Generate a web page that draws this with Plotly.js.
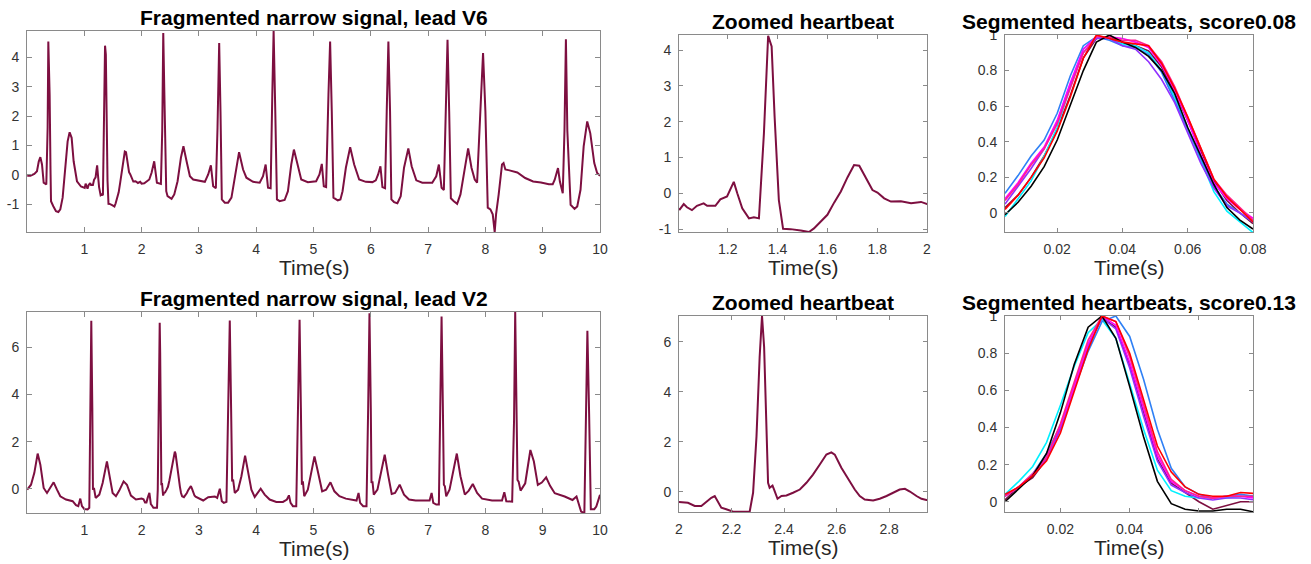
<!DOCTYPE html>
<html>
<head>
<meta charset="utf-8">
<script src="https://cdn.plot.ly/plotly-3.0.1.min.js"></script>
<style>html,body{margin:0;padding:0;background:#fff;}#chart{width:1311px;height:564px;}</style>
</head>
<body>
<div id="chart"></div>
<script>
// ---------------- DATA ----------------
// Lead V6 ECG (time in s, amplitude)
const timeV6 = [0.004,0.06,0.128,0.174,0.205,0.233,0.262,0.291,0.337,0.352,0.36,0.372,0.383,0.395,0.41,0.419,0.459,0.506,0.547,0.581,0.622,0.669,0.709,0.744,0.779,0.814,0.872,0.942,
1.007,1.023,1.036,1.056,1.076,1.103,1.117,1.15,1.17,1.197,1.213,1.224,1.238,1.258,1.285,1.305,1.325,1.345,1.362,1.376,1.388,1.405,1.422,1.452,1.493,1.526,1.546,1.573,1.6,1.627,1.654,1.681,1.707,1.728,1.754,1.781,1.801,1.828,1.855,1.895,1.936,1.976,2.0,
2.047,2.134,2.174,2.22,2.267,2.337,2.36,2.378,2.395,2.413,2.43,2.453,2.523,2.57,2.628,2.686,2.73,2.785,2.843,2.9,3.017,3.104,3.162,3.209,3.249,3.296,3.325,3.354,3.377,3.4,3.452,3.51,3.568,3.626,3.701,3.771,3.829,3.945,
4.061,4.119,4.165,4.206,4.252,4.281,4.304,4.333,4.362,4.409,4.496,4.554,4.612,4.658,4.71,4.786,4.901,5.046,5.104,5.145,5.18,5.22,5.261,5.29,5.319,5.348,5.423,5.47,5.507,5.565,5.64,5.71,5.797,5.913,
6.029,6.087,6.128,6.168,6.203,6.249,6.278,6.307,6.336,6.359,6.406,6.464,6.522,6.58,6.655,6.713,6.794,6.899,7.072,7.142,7.188,7.235,7.275,7.304,7.339,7.368,7.397,7.449,7.507,7.565,7.641,7.699,7.757,7.814,7.855,7.896,7.959,
8.0,8.041,8.087,8.128,8.162,8.186,8.232,8.29,8.317,8.348,8.42,8.557,8.695,8.833,8.97,9.108,9.175,9.21,9.267,9.3,9.35,9.38,9.405,9.43,9.487,9.556,9.603,9.66,9.715,9.777,9.83,9.9,9.95,10.0];
const ampV6 = [-0.03,-0.03,0.03,0.12,0.45,0.6,0.35,-0.27,-0.33,0.5,1.6,4.54,3.6,2.73,0.2,-0.9,-1.07,-1.24,-1.27,-1.18,-0.78,0.12,1.14,1.45,1.26,0.46,-0.22,-0.4,
-0.45,-0.3,-0.39,-0.47,-0.35,-0.28,-0.35,-0.35,-0.17,-0.09,0.17,0.32,0.0,-0.42,-0.7,-0.67,-0.7,1.67,4.4,4.1,2.14,-0.19,-0.99,-1.0,-1.04,-1.08,-0.98,-0.79,-0.6,-0.26,0.05,0.45,0.79,0.77,0.42,0.09,0.02,-0.14,-0.23,-0.22,-0.28,-0.24,-0.3,
-0.29,-0.16,0.07,0.46,-0.27,-0.31,1.5,4.83,3.0,0.69,-0.56,-0.73,-0.82,-0.67,-0.22,0.58,0.97,0.46,-0.05,-0.16,-0.22,-0.24,0.01,0.32,-0.39,-0.46,1.6,4.49,2.16,-0.84,-0.95,-0.95,-0.78,-0.1,0.77,0.18,-0.1,-0.24,
-0.27,-0.05,0.35,-0.44,-0.46,2.73,4.9,2.16,-0.84,-0.9,-0.86,-0.56,0.35,0.86,0.46,-0.16,-0.25,-0.22,0.01,0.37,-0.39,-0.42,2.73,4.54,2.16,-0.78,-0.87,-0.84,-0.56,0.24,0.94,0.35,-0.16,-0.24,
-0.25,-0.19,0.01,0.29,-0.42,-0.46,2.16,4.54,2.16,-0.84,-0.93,-0.97,-0.73,0.24,0.9,0.29,-0.19,-0.27,-0.27,-0.05,0.35,-0.44,-0.52,2.16,4.6,2.16,-0.8,-0.9,-0.99,-0.67,0.24,0.9,0.24,-0.16,-0.27,1.6,4.15,
2.16,-1.12,-1.18,-1.35,-1.95,-1.35,-0.67,0.35,0.4,0.18,0.15,0.08,-0.11,-0.23,-0.26,-0.32,-0.32,-0.17,0.23,-0.23,-0.63,1.5,4.62,1.5,-1.02,-1.16,-1.08,-0.51,0.97,1.82,1.42,0.4,0.06,-0.03];

// Lead V2 ECG (time in s, amplitude)
const timeV2 = [0.004,0.07,0.128,0.186,0.233,0.291,0.349,0.407,0.465,0.523,0.581,0.68,0.797,0.855,0.895,0.93,0.959,1.0,1.058,1.087,1.105,1.122,1.14,1.151,1.169,1.198,1.262,1.32,1.395,1.436,1.494,1.552,1.61,1.686,1.744,1.814,1.901,
2.0,2.034,2.06,2.085,2.107,2.123,2.136,2.149,2.161,2.18,2.206,2.231,2.269,2.282,2.295,2.307,2.316,2.324,2.333,2.339,2.345,2.356,2.362,2.375,2.39,2.409,2.434,2.46,2.485,2.51,2.536,2.561,2.58,2.593,2.618,2.644,2.669,2.688,2.707,2.739,2.764,2.79,2.815,2.84,2.86,2.879,2.904,2.923,2.942,
3.017,3.075,3.162,3.278,3.319,3.365,3.4,3.435,3.481,3.516,3.539,3.562,3.58,3.597,3.626,3.684,3.742,3.806,3.858,3.916,3.974,4.032,4.078,4.148,4.235,4.351,4.467,4.536,4.571,4.6,4.641,4.699,4.728,4.757,4.78,4.797,4.815,4.838,4.901,4.959,
5.017,5.075,5.151,5.22,5.296,5.365,5.452,5.565,5.681,5.751,5.786,5.814,5.867,5.925,5.954,5.977,6.0,6.012,6.029,6.052,6.116,6.18,6.243,6.301,6.365,6.423,6.504,6.58,6.667,6.783,6.957,7.026,7.061,7.09,7.142,7.188,7.212,7.235,7.258,7.275,7.293,7.316,7.374,7.438,7.501,7.565,7.641,7.71,7.78,7.855,7.942,
8.116,8.29,8.33,8.365,8.467,8.5,8.52,8.545,8.56,8.58,8.614,8.695,8.785,8.846,8.915,8.984,9.06,9.129,9.21,9.384,9.52,9.59,9.625,9.67,9.727,9.755,9.78,9.81,9.84,9.9,9.935,10.0];
const ampV2 = [-0.03,0.18,0.68,1.5,1.03,0.04,-0.17,0.04,0.28,-0.03,-0.31,-0.45,-0.52,-0.69,-0.73,-0.41,-0.73,-0.85,-0.87,-0.8,3.43,7.13,3.43,-0.03,0.04,-0.38,-0.24,0.25,1.17,0.61,-0.17,-0.31,-0.07,0.32,0.18,-0.28,-0.45,
-0.41,-0.44,-0.57,-0.57,-0.37,-0.24,-0.17,-0.41,-0.64,-0.7,-0.8,-0.8,-0.8,-0.04,2.22,5.4,7.04,5.8,1.82,0.36,0.16,0.25,0.09,-0.28,-0.17,-0.15,-0.04,0.09,0.36,0.69,1.09,1.49,1.58,1.49,0.96,0.49,0.09,-0.17,-0.31,-0.35,-0.28,-0.17,-0.04,0.09,0.12,0.01,-0.17,-0.28,-0.33,
-0.42,-0.49,-0.35,-0.32,-0.38,0.01,-0.52,-0.59,-0.55,3.43,7.14,3.43,0.32,0.4,-0.17,-0.03,0.54,1.41,0.75,-0.03,-0.34,-0.17,0.01,-0.24,-0.45,-0.55,-0.55,-0.45,-0.27,-0.59,-0.73,-0.73,3.43,7.17,3.43,0.18,0.32,-0.31,-0.03,0.61,
1.38,0.75,-0.1,-0.03,0.28,-0.1,-0.31,-0.41,-0.45,-0.49,-0.17,-0.59,-0.73,-0.73,3.43,7.45,3.43,0.25,0.32,-0.24,-0.03,0.75,1.45,0.61,-0.21,-0.17,0.18,-0.24,-0.45,-0.49,-0.49,-0.49,-0.17,-0.59,-0.66,-0.66,3.43,7.31,3.43,0.18,0.11,-0.31,-0.03,0.75,1.5,0.54,-0.24,-0.07,0.21,-0.17,-0.41,
-0.49,-0.49,-0.14,-0.52,-0.54,2.92,7.5,2.92,0.38,0.31,-0.07,0.24,1.65,1.16,0.17,0.27,0.49,0.13,-0.18,-0.32,-0.47,-0.32,-0.61,-0.96,-1.02,3.2,6.7,3.2,-0.86,-0.86,-0.75,-0.25];

// Segmented heartbeats, lead V6 (normalised)
const segTimeV6 = [0.004,0.008,0.012,0.016,0.02,0.024,0.028,0.032,0.036,0.04,0.044,0.048,0.052,0.056,0.06,0.064,0.068,0.072,0.076,0.08];
const segV6Maroon  = [0.03,0.10,0.20,0.32,0.47,0.66,0.87,0.98,0.99,0.96,0.94,0.91,0.82,0.68,0.52,0.35,0.18,0.07,0.00,-0.06];
const segV6Cyan    = [-0.02,0.08,0.18,0.32,0.48,0.71,0.92,0.99,0.98,0.95,0.94,0.90,0.80,0.65,0.47,0.30,0.12,0.01,-0.05,-0.11];
const segV6Blue    = [0.11,0.21,0.32,0.41,0.56,0.77,0.94,0.99,0.97,0.94,0.93,0.89,0.79,0.63,0.47,0.30,0.15,0.05,0.00,-0.05];
const segV6Purple  = [0.05,0.15,0.25,0.36,0.51,0.72,0.90,0.98,0.98,0.94,0.92,0.85,0.75,0.62,0.45,0.28,0.14,0.04,0.00,-0.05];
const segV6Magenta = [0.08,0.17,0.28,0.37,0.52,0.73,0.92,0.99,0.99,0.98,0.96,0.93,0.83,0.69,0.52,0.33,0.17,0.08,0.02,-0.03];
const segV6Pink    = [0.07,0.16,0.27,0.36,0.50,0.70,0.90,0.99,0.99,0.97,0.97,0.94,0.85,0.71,0.54,0.36,0.19,0.10,0.03,-0.04];
const segV6Black   = [-0.01,0.06,0.15,0.26,0.41,0.60,0.80,0.96,1.00,0.96,0.93,0.88,0.80,0.67,0.48,0.32,0.16,0.03,-0.04,-0.09];
const segV6Red     = [0.02,0.10,0.20,0.31,0.46,0.65,0.87,1.00,0.98,0.96,0.95,0.94,0.84,0.70,0.54,0.36,0.19,0.09,0.02,-0.05];

// Segmented heartbeats, lead V2 (normalised)
const segTimeV2 = [0.004,0.008,0.012,0.016,0.02,0.024,0.028,0.032,0.036,0.04,0.044,0.048,0.052,0.056,0.06,0.064,0.068,0.072,0.076];
const segV2Maroon  = [0.01,0.08,0.13,0.23,0.40,0.62,0.84,0.99,0.94,0.74,0.48,0.23,0.10,0.05,0.00,-0.04,-0.02,0.00,0.00];
const segV2Cyan    = [0.04,0.11,0.19,0.32,0.52,0.73,0.91,0.98,0.88,0.64,0.39,0.17,0.06,0.03,0.02,0.02,0.02,0.03,0.03];
const segV2Blue    = [0.03,0.08,0.15,0.26,0.41,0.61,0.81,0.97,1.00,0.89,0.66,0.39,0.18,0.08,0.04,0.02,0.03,0.04,0.03];
const segV2Purple  = [0.03,0.08,0.14,0.23,0.39,0.61,0.84,0.99,0.93,0.72,0.46,0.22,0.09,0.05,0.02,0.01,0.02,0.02,0.01];
const segV2Magenta = [0.03,0.08,0.15,0.24,0.41,0.62,0.85,1.00,0.95,0.75,0.50,0.25,0.11,0.06,0.03,0.02,0.03,0.03,0.02];
const segV2Pink    = [0.03,0.08,0.15,0.24,0.42,0.64,0.87,1.00,0.97,0.78,0.52,0.27,0.12,0.06,0.03,0.02,0.03,0.03,0.03];
const segV2Black   = [0.00,0.07,0.14,0.26,0.48,0.74,0.94,1.00,0.88,0.62,0.35,0.11,-0.01,-0.04,-0.05,-0.05,-0.04,-0.04,-0.055];
const segV2Red     = [0.04,0.08,0.14,0.22,0.37,0.59,0.82,1.00,0.97,0.80,0.55,0.30,0.16,0.08,0.04,0.03,0.03,0.05,0.045];

// Tick values / labels
const ecgTicksV6 = [-1,0,1,2,3,4];
const ecgTickTextV6 = ['-1','0','1','2','3','4'];
const ecgTicksV2 = [0,2,4,6];
const secondTicks = [1,2,3,4,5,6,7,8,9,10];
const zoomTicksV6 = [1.2,1.4,1.6,1.8,2];
const zoomTickTextV6 = ['1.2','1.4','1.6','1.8','2'];
const zoomTicksV2 = [2,2.2,2.4,2.6,2.8];
const zoomTickTextV2 = ['2','2.2','2.4','2.6','2.8'];
const segYTicks = [0,0.2,0.4,0.6,0.8,1];
const segYTickText = ['0','0.2','0.4','0.6','0.8','1'];
const segXTicksV6 = [0.02,0.04,0.06,0.08];
const segXTicksV2 = [0.02,0.04,0.06];

const titles = ['Fragmented narrow signal, lead V6','Zoomed heartbeat','Segmented heartbeats, score0.08',
                'Fragmented narrow signal, lead V2','Zoomed heartbeat','Segmented heartbeats, score0.13'];
const xLabel = 'Time(s)';

// ---------------- STYLE / LAYOUT ----------------
const W = 1311, H = 564;
const ECG = '#7d0f40';
const segColors = {Maroon:'#7d0f40', Cyan:'#00f0ff', Blue:'#2f80f5', Purple:'#9030ff', Magenta:'#ff00ff', Pink:'#ff2090', Black:'#000000', Red:'#ff0000'};
const segOrder = ['Maroon','Cyan','Blue','Purple','Magenta','Pink','Black','Red'];

// pixel boxes of the six panels [left, right, top, bottom]
const boxes = [[27,600,31,232],[679,927,35,232],[1005,1253,35,232],
               [27,600,312,513],[679,927,316,512],[1005,1253,316,512]];

const traces = [];
traces.push({x:timeV6, y:ampV6, xaxis:'x', yaxis:'y', type:'scatter', mode:'lines', line:{color:ECG, width:2}});
traces.push({x:timeV6, y:ampV6, xaxis:'x2', yaxis:'y2', type:'scatter', mode:'lines', line:{color:ECG, width:2}});
const segV6 = {Maroon:segV6Maroon,Cyan:segV6Cyan,Blue:segV6Blue,Purple:segV6Purple,Magenta:segV6Magenta,Pink:segV6Pink,Black:segV6Black,Red:segV6Red};
const segV2 = {Maroon:segV2Maroon,Cyan:segV2Cyan,Blue:segV2Blue,Purple:segV2Purple,Magenta:segV2Magenta,Pink:segV2Pink,Black:segV2Black,Red:segV2Red};
segOrder.forEach(k => traces.push({x:segTimeV6, y:segV6[k], xaxis:'x3', yaxis:'y3', type:'scatter', mode:'lines', line:{color:segColors[k], width:1.6}}));
traces.push({x:timeV2, y:ampV2, xaxis:'x4', yaxis:'y4', type:'scatter', mode:'lines', line:{color:ECG, width:2}});
traces.push({x:timeV2, y:ampV2, xaxis:'x5', yaxis:'y5', type:'scatter', mode:'lines', line:{color:ECG, width:2}});
segOrder.forEach(k => traces.push({x:segTimeV2, y:segV2[k], xaxis:'x6', yaxis:'y6', type:'scatter', mode:'lines', line:{color:segColors[k], width:1.6}}));

const tickFont = {family:'Liberation Sans, Arial, sans-serif', size:14, color:'#333333'};
function axisBase(len){
  return {showline:true, mirror:'allticks', linecolor:'#8a8a8a', linewidth:1,
          ticks:'inside', ticklen:len, tickwidth:1, tickcolor:'#8a8a8a',
          showgrid:false, zeroline:false, tickfont:tickFont, fixedrange:true, tickmode:'array'};
}
const ranges = [
  {x:[0,10], y:[-1.95,4.9], xt:secondTicks, xtt:secondTicks.map(String), yt:ecgTicksV6, ytt:ecgTickTextV6, tl:5},
  {x:[1.004,2.0], y:[-1.08,4.42], xt:zoomTicksV6, xtt:zoomTickTextV6, yt:ecgTicksV6, ytt:ecgTickTextV6, tl:4},
  {x:[0.004,0.08], y:[-0.107,1], xt:segXTicksV6, xtt:segXTicksV6.map(String), yt:segYTicks, ytt:segYTickText, tl:4},
  {x:[0,10], y:[-1.02,7.5], xt:secondTicks, xtt:secondTicks.map(String), yt:ecgTicksV2, ytt:ecgTicksV2.map(String), tl:5},
  {x:[2.0,2.944], y:[-0.81,7.04], xt:zoomTicksV2, xtt:zoomTickTextV2, yt:ecgTicksV2, ytt:ecgTicksV2.map(String), tl:4},
  {x:[0.004,0.0756], y:[-0.055,1], xt:segXTicksV2, xtt:segXTicksV2.map(String), yt:segYTicks, ytt:segYTickText, tl:4}
];

const layout = {width:W, height:H, margin:{l:0,r:0,t:0,b:0}, paper_bgcolor:'#ffffff', plot_bgcolor:'#ffffff',
                showlegend:false, annotations:[]};
boxes.forEach((b,i) => {
  const n = i===0 ? '' : String(i+1);
  const r = ranges[i];
  const xa = Object.assign(axisBase(r.tl), {domain:[b[0]/W, b[1]/W], range:r.x, tickvals:r.xt, ticktext:r.xtt,
               anchor:'y'+n, ticklabelstandoff:4});
  const ya = Object.assign(axisBase(r.tl), {domain:[1-b[3]/H, 1-b[2]/H], range:r.y, tickvals:r.yt, ticktext:r.ytt,
               anchor:'x'+n, ticklabelstandoff:4});
  layout['xaxis'+n] = xa;
  layout['yaxis'+n] = ya;
  const cx = (b[0]+b[1])/2/W;
  layout.annotations.push({text:'<b>'+titles[i]+'</b>', xref:'paper', yref:'paper', x:cx, y:1-b[2]/H,
    xanchor:'center', yanchor:'bottom', yshift:0, showarrow:false,
    font:{family:'Liberation Sans, Arial, sans-serif', size:21, color:'#000000'}});
  layout.annotations.push({text:xLabel, xref:'paper', yref:'paper', x:cx, y:1-b[3]/H,
    xanchor:'center', yanchor:'top', yshift:-22, showarrow:false,
    font:{family:'Liberation Sans, Arial, sans-serif', size:21, color:'#262626'}});
});

Plotly.newPlot('chart', traces, layout, {displayModeBar:false, staticPlot:true});
</script>
</body>
</html>
